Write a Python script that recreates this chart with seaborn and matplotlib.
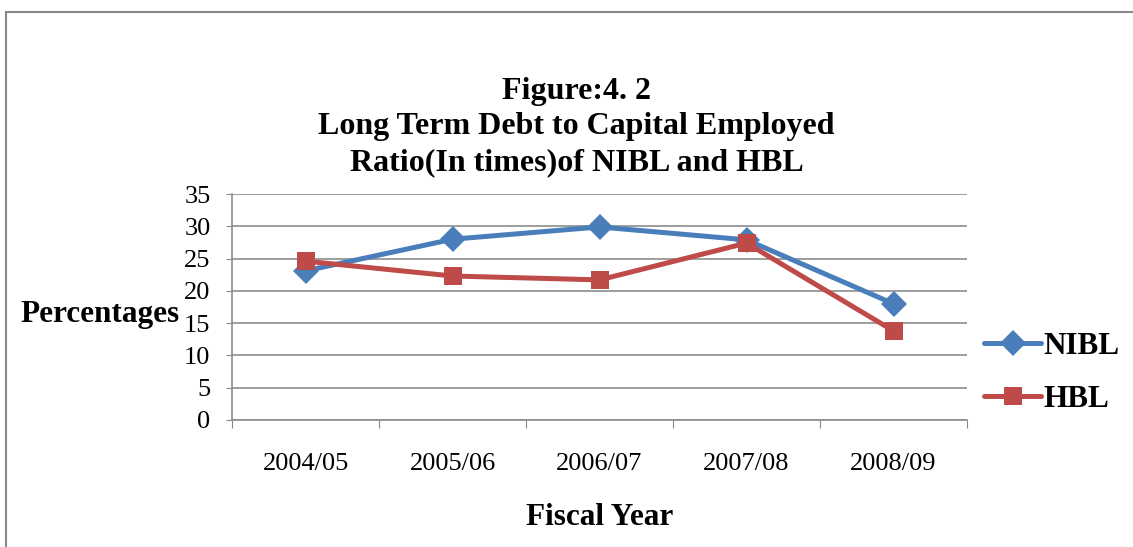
import numpy as np
import pandas as pd
import matplotlib
matplotlib.use("Agg")
import matplotlib.pyplot as plt
import seaborn as sns
from matplotlib.patches import Rectangle

# data
years = ['2004/05', '2005/06', '2006/07', '2007/08', '2008/09']
nibl = [23.1, 28.0, 29.9, 27.9, 18.0]
hbl = [24.6, 22.3, 21.7, 27.4, 13.8]

df = pd.DataFrame({
    'pos': list(range(len(years))) * 2,
    'value': nibl + hbl,
    'bank': ['NIBL'] * len(years) + ['HBL'] * len(years),
})

sns.set_style('white')
plt.rcParams['font.family'] = ['Liberation Serif', 'DejaVu Serif']
plt.rcParams['text.color'] = 'black'
plt.rcParams['axes.labelcolor'] = 'black'
plt.rcParams['xtick.color'] = 'black'
plt.rcParams['ytick.color'] = 'black'

fig = plt.figure(figsize=(11.33, 5.47), dpi=100)
ax = fig.add_axes([0.2048, 0.2322, 0.6487, 0.4131])

palette = {'NIBL': '#4A7EBB', 'HBL': '#BE4B48'}
sns.lineplot(data=df, x='pos', y='value', hue='bank', style='bank',
             markers={'NIBL': 'D', 'HBL': 's'}, dashes=False,
             palette=palette, linewidth=3.6, markersize=13,
             markeredgewidth=0, ax=ax)

ax.set_ylim(0, 35)
ax.set_yticks(range(0, 36, 5))
ax.set_xlim(-0.5, len(years) - 0.5)
ax.set_xticks(np.arange(-0.5, len(years), 1.0))
ax.set_xticklabels([])
ax.set_xticks(range(len(years)), minor=True)
ax.set_xticklabels(years, minor=True)
ax.tick_params(axis='x', which='major', length=6, color='#888888', direction='out', bottom=True)
ax.tick_params(axis='x', which='minor', length=0, pad=24, labelsize=19)
ax.tick_params(axis='y', length=4.5, color='#888888', direction='out', left=True, labelsize=19, pad=11)

ax.grid(axis='y', color='#8c8c8c', linewidth=1.2)
ax.set_axisbelow(True)
for s in ['top', 'right']:
    ax.spines[s].set_visible(False)
for s in ['left', 'bottom']:
    ax.spines[s].set_color('#8c8c8c')
    ax.spines[s].set_linewidth(1.2)

ax.set_xlabel('Fiscal Year', fontsize=22.5, fontweight='bold', labelpad=20)
ax.set_ylabel('Percentages', fontsize=22.5, fontweight='bold', rotation=0,
              ha='right', va='center')
ax.yaxis.set_label_coords(-0.072, 0.465)

fig.text(0.509, 0.768, 'Figure:4. 2\nLong Term Debt to Capital Employed\nRatio(In times)of NIBL and HBL',
         ha='center', va='center', fontsize=23, fontweight='bold', linespacing=1.3)

leg = ax.legend(loc='center left', bbox_to_anchor=(968 / 1133, 1 - 373 / 547),
                bbox_transform=fig.transFigure, frameon=False, borderpad=0,
                prop={'size': 22.5, 'weight': 'bold'}, handlelength=1.85,
                labelspacing=0.75, handletextpad=0.05)

fig.patches.append(Rectangle((0.005, -0.01), 1.2, 0.988, transform=fig.transFigure,
                             fill=False, edgecolor='#888888', linewidth=1.5))

fig.savefig('out.png', dpi=100)
